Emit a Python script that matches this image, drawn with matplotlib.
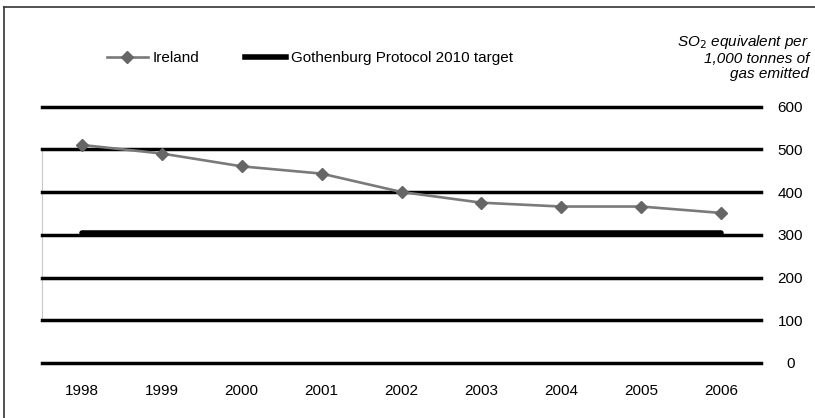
import matplotlib.pyplot as plt
from matplotlib.lines import Line2D

plt.rcParams['font.family'] = ['Liberation Sans', 'DejaVu Sans']

# Dati
years = ['1998', '1999', '2000', '2001', '2002', '2003', '2004', '2005', '2006']
ireland = [510, 490, 460, 443, 400, 375, 366, 366, 351]
target_2010 = [305, 305, 305, 305, 305, 305, 305, 305, 305]
y_ticks = [0, 100, 200, 300, 400, 500, 600]

W, H = 815, 418
fig = plt.figure(figsize=(W / 100, H / 100), dpi=100)

# area del grafico: x 42..761 px, y 600 -> 106.5 px, 0 -> 363 px
ax = fig.add_axes([42 / W, 1 - 363 / H, (761 - 42) / W, (363 - 106.5) / H])
ax.set_xlim(-0.5, len(years) - 0.5)
ax.set_ylim(0, 600)
for s in ax.spines.values():
    s.set_visible(False)

# griglia orizzontale nera spessa
for v in y_ticks:
    ax.axhline(v, color='black', linewidth=2.5, clip_on=False, zorder=1)

# linea verticale grigia chiara a sinistra (100-500)
ax.plot([-0.5, -0.5], [100, 500], color='#c8c8c8', linewidth=0.8, clip_on=False, zorder=0)

x = list(range(len(years)))
ax.plot(x, target_2010, color='black', linewidth=4, solid_capstyle='round', zorder=2,
        label='Gothenburg Protocol 2010 target')
ax.plot(x, ireland, color='#7a7a7a', linewidth=1.9, marker='D', markersize=6.5,
        markerfacecolor='#666666', markeredgecolor='#666666', zorder=3, label='Ireland')

ax.set_xticks(x)
ax.set_xticklabels(years, fontsize=11)
ax.tick_params(axis='x', length=0, pad=15)

ax.yaxis.tick_right()
ax.set_yticks(y_ticks)
ax.set_yticklabels([str(v) for v in y_ticks], fontsize=11, ha='center')
ax.tick_params(axis='y', length=0, pad=21)

# legenda
handles = [
    Line2D([0], [0], color='#7a7a7a', linewidth=1.9, marker='D', markersize=6.5,
           markerfacecolor='#666666', markeredgecolor='#666666'),
    Line2D([0], [0], color='black', linewidth=4),
]
fig.legend(handles, ['Ireland', 'Gothenburg Protocol 2010 target'],
           loc='center left', bbox_to_anchor=(93 / W, 1 - 58 / H), ncol=2,
           frameon=False, fontsize=11, handlelength=2.7, handletextpad=0.3,
           columnspacing=3.0)

# titolo unità in alto a destra
fig.text(809 / W, 1 - 33 / H, 'SO$_2$ equivalent per\n1,000 tonnes of\ngas emitted',
         ha='right', va='top', fontsize=11, style='italic', linespacing=1.1)

# bordo (solo sinistra e sopra visibili)
fig.add_artist(Line2D([4 / W, 4 / W], [0, 1 - 7 / H], color='#333333', linewidth=1.2))
fig.add_artist(Line2D([4 / W, 1], [1 - 7 / H, 1 - 7 / H], color='#333333', linewidth=1.2))

fig.savefig('out.png', dpi=100)
